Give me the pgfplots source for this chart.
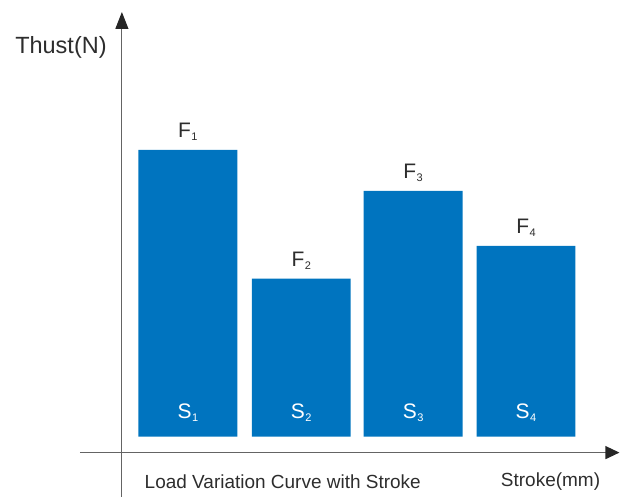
\documentclass[border=0pt]{standalone}
\usepackage{pgfplots}
\pgfplotsset{compat=1.18}
\usetikzlibrary{arrows.meta}
\usepackage{fontspec}
\setmainfont{Liberation Sans}
\definecolor{barblue}{RGB}{0,116,191}
\definecolor{txt}{RGB}{45,45,45}
\definecolor{axgray}{RGB}{100,100,100}
\newcommand{\sub}[1]{\kern0.5pt\raisebox{-2.5pt}{\fontsize{11}{12}\selectfont #1}}
\begin{document}
\begin{tikzpicture}
\begin{axis}[
  scale only axis, width=620pt, height=497pt,
  xmin=0, xmax=620, ymin=-60, ymax=437,
  axis lines=none, clip=false,
  ybar, bar width=99,
]
\path (rel axis cs:0,0) rectangle (rel axis cs:1,1);
\addplot[fill=barblue, draw=none] coordinates {(188,287) (301.5,158) (413.5,246) (526.5,191)};
% axes
\draw[line width=1.1pt, axgray, -{Triangle[length=17pt,width=13pt,fill=black!85,color=black!85]}] (axis cs:122,-60) -- (axis cs:122,425);
\draw[line width=1.1pt, axgray, -{Triangle[length=14pt,width=13pt,fill=black!85,color=black!85]}] (axis cs:80,-16) -- (axis cs:620,-16);
% labels
\node[txt, font=\fontsize{23.5}{27}\selectfont] at (axis cs:61,390) {Thust(N)};
\node[txt, font=\fontsize{19}{22}\selectfont] at (axis cs:283,-45) {Load Variation Curve with Stroke};
\node[txt, font=\fontsize{19}{22}\selectfont] at (axis cs:551,-45) {Stroke(mm)};
\node[txt, font=\fontsize{21}{24}\selectfont] at (axis cs:188,305) {F\sub{1}};
\node[txt, font=\fontsize{21}{24}\selectfont] at (axis cs:301.5,176) {F\sub{2}};
\node[txt, font=\fontsize{21}{24}\selectfont] at (axis cs:413.5,264) {F\sub{3}};
\node[txt, font=\fontsize{21}{24}\selectfont] at (axis cs:526.5,209) {F\sub{4}};
\node[white, font=\fontsize{21}{24}\selectfont] at (axis cs:188,24) {S\sub{1}};
\node[white, font=\fontsize{21}{24}\selectfont] at (axis cs:301.5,24) {S\sub{2}};
\node[white, font=\fontsize{21}{24}\selectfont] at (axis cs:413.5,24) {S\sub{3}};
\node[white, font=\fontsize{21}{24}\selectfont] at (axis cs:526.5,24) {S\sub{4}};
\end{axis}
\end{tikzpicture}
\end{document}
